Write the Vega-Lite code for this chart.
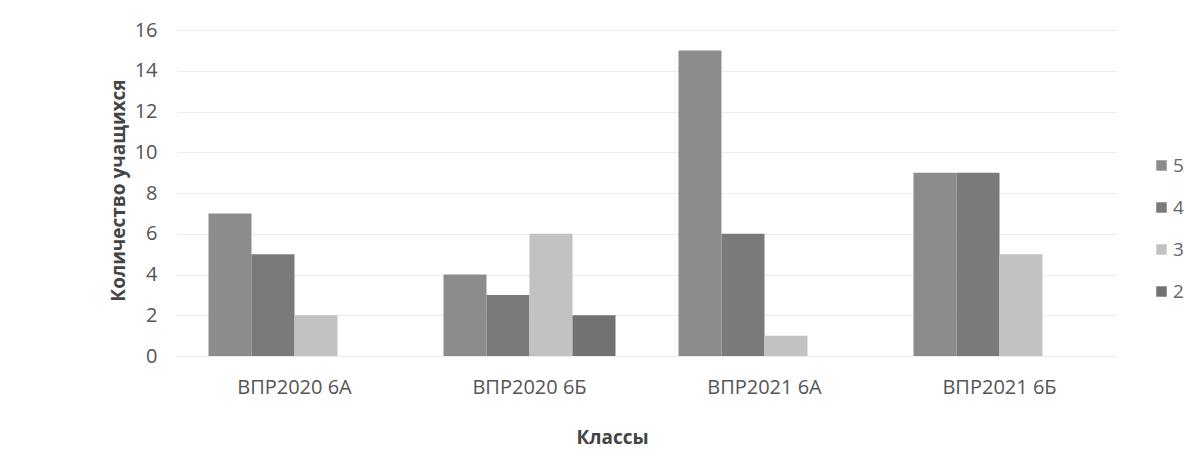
{
  "$schema": "https://vega.github.io/schema/vega-lite/v6.json",
  "autosize": {"type": "none"},
  "padding": {"left": 177, "top": 30, "right": 71, "bottom": 101},
  "width": 940,
  "height": 326,
  "background": "white",
  "config": {
    "view": {"stroke": null},
    "font": "Open Sans"
  },
  "data": {
    "values": [
      {"class": "ВПР2020 6А", "grade": "5", "count": 7},
      {"class": "ВПР2020 6А", "grade": "4", "count": 5},
      {"class": "ВПР2020 6А", "grade": "3", "count": 2},
      {"class": "ВПР2020 6А", "grade": "2", "count": 0},
      {"class": "ВПР2020 6Б", "grade": "5", "count": 4},
      {"class": "ВПР2020 6Б", "grade": "4", "count": 3},
      {"class": "ВПР2020 6Б", "grade": "3", "count": 6},
      {"class": "ВПР2020 6Б", "grade": "2", "count": 2},
      {"class": "ВПР2021 6А", "grade": "5", "count": 15},
      {"class": "ВПР2021 6А", "grade": "4", "count": 6},
      {"class": "ВПР2021 6А", "grade": "3", "count": 1},
      {"class": "ВПР2021 6А", "grade": "2", "count": 0},
      {"class": "ВПР2021 6Б", "grade": "5", "count": 9},
      {"class": "ВПР2021 6Б", "grade": "4", "count": 9},
      {"class": "ВПР2021 6Б", "grade": "3", "count": 5},
      {"class": "ВПР2021 6Б", "grade": "2", "count": 0}
    ]
  },
  "mark": {"type": "bar"},
  "encoding": {
    "x": {
      "field": "class",
      "type": "nominal",
      "sort": null,
      "scale": {"paddingInner": 0.268, "paddingOuter": 0.134},
      "axis": {
        "title": "Классы",
        "labelAngle": 0,
        "ticks": false,
        "domain": false,
        "labelPadding": 21,
        "labelFontSize": 20,
        "labelColor": "#555555",
        "titleFontSize": 19,
        "titleFontWeight": "bold",
        "titleColor": "#444444",
        "titleX": 435,
        "titleY": 81,
        "titleBaseline": "middle",
        "titleAlign": "center"
      }
    },
    "xOffset": {
      "field": "grade",
      "type": "nominal",
      "sort": ["5", "4", "3", "2"]
    },
    "y": {
      "field": "count",
      "type": "quantitative",
      "scale": {"domain": [0, 16], "nice": false},
      "axis": {
        "title": "Количество учащихся",
        "values": [0, 2, 4, 6, 8, 10, 12, 14, 16],
        "ticks": false,
        "domain": false,
        "labelPadding": 20,
        "labelFontSize": 20,
        "labelColor": "#555555",
        "gridColor": "#ececec",
        "gridWidth": 1,
        "titleFontSize": 19,
        "titleFontWeight": "bold",
        "titleColor": "#444444",
        "titleX": -59,
        "titleY": 160,
        "titleBaseline": "middle",
        "titleAlign": "center"
      }
    },
    "color": {
      "field": "grade",
      "type": "nominal",
      "sort": ["5", "4", "3", "2"],
      "scale": {"domain": ["5", "4", "3", "2"], "range": ["#8c8c8c", "#7a7a7a", "#c2c2c2", "#727272"]},
      "legend": {
        "title": null,
        "orient": "none",
        "legendX": 975,
        "legendY": 126,
        "symbolType": "square",
        "symbolSize": 110,
        "rowPadding": 22,
        "labelFontSize": 19,
        "labelColor": "#666666",
        "labelOffset": 2
      }
    }
  }
}
